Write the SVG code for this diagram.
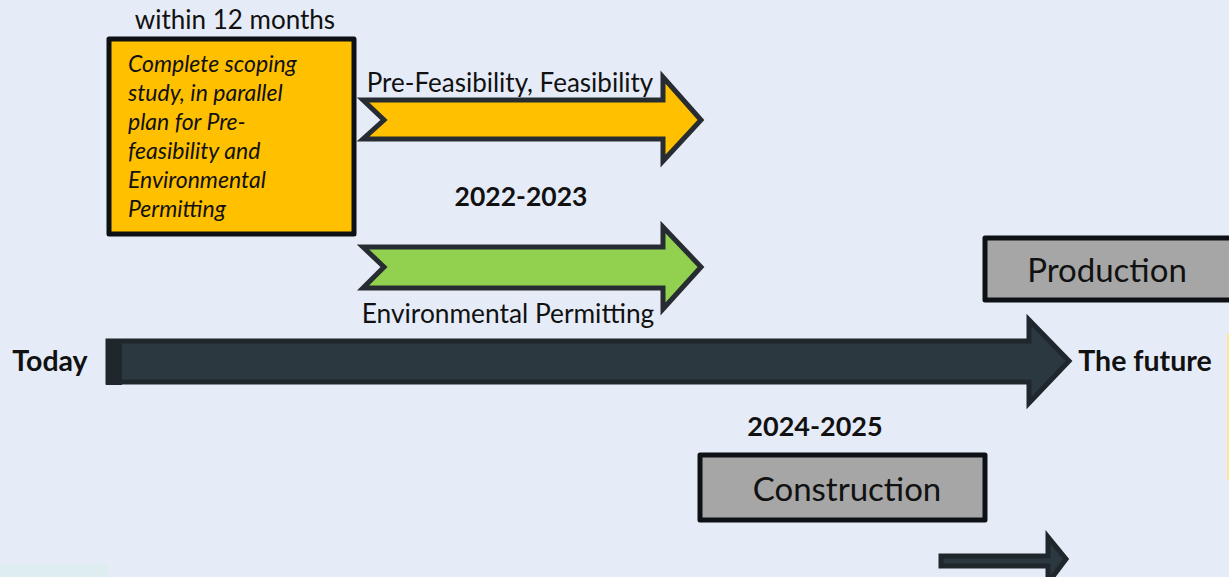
<svg xmlns="http://www.w3.org/2000/svg" width="1229" height="577" viewBox="0 0 1229 577">
<style>
.t{font-family:Lato,"Open Sans","Liberation Sans",sans-serif;fill:#111;}
.b{font-weight:bold;}
.it{font-style:italic;}
.box{stroke:#0d1014;stroke-width:5;stroke-linejoin:round;}
.gray{fill:#a6a6a6;}
.arr{stroke:#262c31;stroke-width:5;stroke-linejoin:miter;}
.dark{fill:#2c3840;stroke:#1f262c;stroke-width:5;stroke-linejoin:miter;}
</style>
<rect width="1229" height="577" fill="#e6ecf7"/>
<rect x="0" y="564" width="108" height="13" fill="#dcefee" opacity="0.8"/>
<line x1="1228" y1="333" x2="1228" y2="480" stroke="#ffe699" stroke-width="2"/>

<g id="connectors">
  <g id="main-timeline">
    <path class="dark" d="M108,341 L1029,341 L1029,320 L1069,361 L1029,403 L1029,382 L108,382 Z"/>
    <rect x="106" y="339" width="16" height="46" fill="#1f262c"/>
  </g>
  <path id="arrow-prefeas" class="arr" fill="#ffc000" d="M363,100 L663,100 L663,77 L701,120 L663,161 L663,139 L363,139 L384,120 Z"/>
  <path id="arrow-env" class="arr" fill="#92d050" d="M363,247 L663,247 L663,227 L701,267 L663,309 L663,288 L363,288 L384,267 Z"/>
  <path id="arrow-bottom" class="dark" d="M941,556 L1048,556 L1048,537 L1066,559 L1048,583 L1048,566 L941,566 Z"/>
</g>

<g id="scoping">
  <text class="t" x="235" y="29" font-size="26" text-anchor="middle">within 12 months</text>
  <rect class="box" x="109" y="39" width="245" height="195" fill="#ffc000"/>
  <g class="t it" font-size="23">
    <text x="128" y="72">Complete scoping</text>
    <text x="128" y="101">study, in parallel</text>
    <text x="128" y="130">plan for Pre-</text>
    <text x="128" y="159">feasibility and</text>
    <text x="128" y="188">Environmental</text>
    <text x="128" y="217">Permitting</text>
  </g>
</g>

<g id="labels-2022">
  <text class="t" x="510" y="92" font-size="26" text-anchor="middle">Pre-Feasibility, Feasibility</text>
  <text class="t b" x="521" y="206" font-size="26.5" text-anchor="middle">2022-2023</text>
  <text class="t" x="508" y="323" font-size="26.3" text-anchor="middle">Environmental Permitting</text>
</g>

<g id="today"><text class="t b" x="50" y="371" font-size="28.5" text-anchor="middle">Today</text></g>
<g id="future"><text class="t b" x="1145" y="371" font-size="28.5" text-anchor="middle">The future</text></g>

<g id="production">
  <rect class="box gray" x="985" y="238" width="250" height="62"/>
  <text class="t" x="1107" y="282" font-size="33" text-anchor="middle" fill="#1a1a1a">Production</text>
</g>

<g id="construction">
  <text class="t b" x="815" y="436" font-size="27" text-anchor="middle">2024-2025</text>
  <rect class="box gray" x="700" y="455" width="285" height="65"/>
  <text class="t" x="847" y="501" font-size="33" text-anchor="middle" fill="#1a1a1a">Construction</text>
</g>
</svg>
